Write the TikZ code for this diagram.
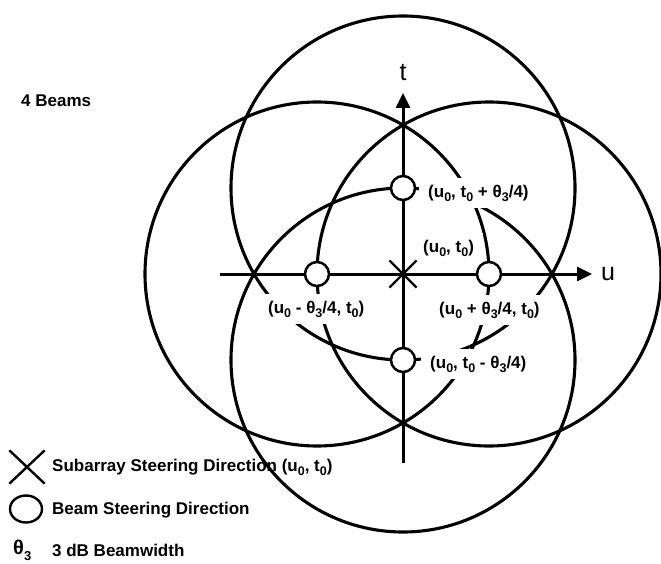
\documentclass[tikz,border=0pt]{standalone}
\usepackage{fontspec}
\setmainfont{Liberation Sans}
\usetikzlibrary{arrows.meta,shapes.misc,shapes.geometric}
\newcommand{\sbs}[1]{\raisebox{-0.45ex}{\fontsize{12.5}{13}\selectfont #1}}
\begin{document}
\begin{tikzpicture}[x=1pt,y=-1pt,
  bigcirc/.style={line width=3.1pt},
  axisline/.style={line width=3pt,-{Triangle[length=15pt,width=14pt]}},
  beamdir/.style={circle,draw,fill=white,line width=2.5pt,minimum size=24pt,inner sep=0pt},
  lbl/.style={fill=white,inner xsep=9pt,inner ysep=0pt,minimum height=30pt,anchor=west,font=\fontsize{17}{20}\selectfont\bfseries},
  legtext/.style={anchor=west,inner sep=0pt,font=\fontsize{17}{20}\selectfont\bfseries},
  axlbl/.style={font=\fontsize{25}{28}\selectfont,inner sep=0pt}]
\useasboundingbox (0,0) rectangle (661,564);
% centres
\coordinate (o) at (403,274);
\coordinate (ct) at (403,188);
\coordinate (cb) at (403,360);
\coordinate (cl) at (317,274);
\coordinate (cr) at (489,274);
% big beam circles
\draw[bigcirc] (ct) circle[radius=172pt];
\draw[bigcirc] (cb) circle[radius=172pt];
\draw[bigcirc] (cl) circle[radius=172pt];
\draw[bigcirc] (cr) circle[radius=172pt];
% axes
\coordinate (xs) at (220,274);
\coordinate (xe) at (592,274);
\coordinate (ys) at (403,463);
\coordinate (ye) at (403,93);
\draw[axisline] (xs) -- (xe);
\draw[axisline] (ys) -- (ye);
\node[axlbl] (tl) at (403,73) {t};
\node[axlbl] (ul) at (608,274) {u};
% labels
\node[lbl] (l1) at (419,193) {(u\sbs{0}, t\sbs{0} + θ\sbs{3}/4)};
\node[lbl] (l2) at (414,248) {(u\sbs{0}, t\sbs{0})};
\node[lbl] (l3) at (259,309) {(u\sbs{0} - θ\sbs{3}/4, t\sbs{0})};
\node[lbl] (l4) at (430,310) {(u\sbs{0} + θ\sbs{3}/4, t\sbs{0})};
\node[lbl] (l5) at (421,364) {(u\sbs{0}, t\sbs{0} - θ\sbs{3}/4)};
% beam steering directions
\node[beamdir] (bt) at (ct) {};
\node[beamdir] (bb) at (cb) {};
\node[beamdir] (bl) at (cl) {};
\node[beamdir] (br) at (cr) {};
% subarray steering direction
\node[cross out,draw,line width=2.2pt,minimum size=25pt,inner sep=0pt] (sub) at (o) {};
% legend
\node[legtext] (beams) at (21,101) {4 Beams};
\node[cross out,draw,line width=2.4pt,minimum width=33pt,minimum height=31pt,inner sep=0pt] (legx) at (27,467) {};
\node[legtext] (legxt) at (52,467) {Subarray Steering Direction (u\sbs{0}, t\sbs{0})};
\node[ellipse,draw,line width=2.4pt,minimum width=32pt,minimum height=27pt,inner sep=0pt] (lego) at (26,509) {};
\node[legtext] (legot) at (52,510) {Beam Steering Direction};
\node[legtext,font=\fontsize{20}{22}\selectfont\bfseries] (legth) at (13,550) {θ\raisebox{-0.6ex}{\fontsize{13}{14}\selectfont 3}};
\node[legtext] (legtht) at (52,550) {3 dB Beamwidth};
\end{tikzpicture}
\end{document}
